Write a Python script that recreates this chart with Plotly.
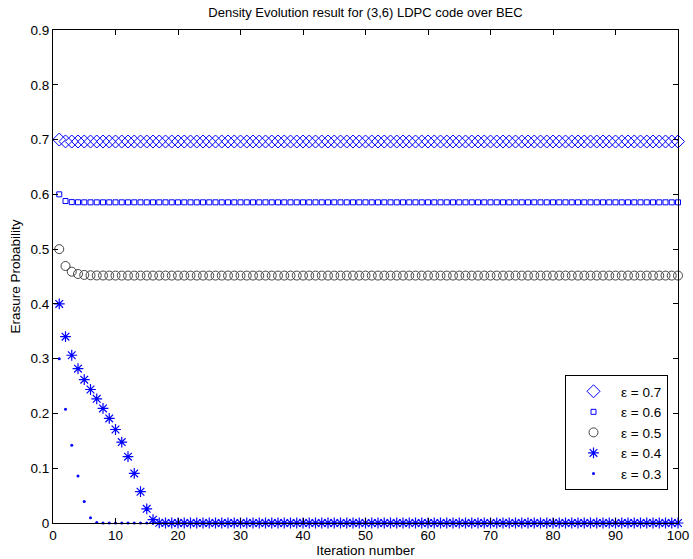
import plotly.graph_objects as go

iterations = list(range(1, 101))

eps_07 = [0.7, 0.6966, 0.6964] + [0.6964] * 97
eps_06 = [0.6, 0.5878, 0.5858, 0.5855] + [0.5854] * 96
eps_05 = [0.5, 0.4692, 0.4588, 0.4546, 0.4529, 0.4522, 0.4519, 0.4518, 0.4517] + [0.4517] * 91
eps_04 = [0.4, 0.3402, 0.3062, 0.2817, 0.2617, 0.2437, 0.2266, 0.2092, 0.1909,
          0.1707, 0.1477, 0.1211, 0.0905, 0.0571, 0.0259, 0.0061, 0.0004] + [0.0] * 83
eps_03 = [0.3, 0.2076, 0.1419, 0.0858, 0.0392, 0.0098, 0.0007] + [0.0] * 93

series = [
    ("ε = 0.7", eps_07, dict(symbol="diamond-open", size=10, color="#0000ff", line=dict(width=1))),
    ("ε = 0.6", eps_06, dict(symbol="square-open", size=5, color="#0000ff", line=dict(width=1))),
    ("ε = 0.5", eps_05, dict(symbol="circle-open", size=9, color="#444444", line=dict(width=1))),
    ("ε = 0.4", eps_04, dict(symbol="asterisk-open", size=9, color="#0000ff", line=dict(width=1.2))),
    ("ε = 0.3", eps_03, dict(symbol="circle", size=3, color="#0000ff")),
]

fig = go.Figure()
for name, vals, mk in series:
    fig.add_trace(go.Scatter(x=iterations, y=vals, mode="markers", name=name,
                             marker=mk, cliponaxis=False))

font_family = "Liberation Sans, Arial, sans-serif"
axis_common = dict(showline=True, linecolor="black", linewidth=1, mirror="ticks",
                   ticks="inside", ticklen=5, tickcolor="black", showgrid=False,
                   zeroline=False, tickfont=dict(size=13.5, color="black", family=font_family))

fig.update_layout(
    width=693, height=559,
    margin=dict(l=53, r=15, t=30, b=36, autoexpand=False),
    paper_bgcolor="white", plot_bgcolor="white",
    font=dict(family=font_family, color="black"),
    title=dict(text="Density Evolution result for (3,6) LDPC code over BEC",
               x=(53 + 678) / 2 / 693, xanchor="center", y=1 - 12 / 559, yanchor="middle",
               font=dict(size=13, color="black")),
    xaxis=dict(range=[0, 100], dtick=10, tick0=0,
               title=dict(text="Iteration number", font=dict(size=13.5), standoff=2),
               **axis_common),
    yaxis=dict(range=[0, 0.9], dtick=0.1, tick0=0, tickformat=".1~f",
               title=dict(text="Erasure Probability", font=dict(size=13.5), standoff=6),
               **axis_common),
    legend=dict(x=(668 - 53) / 625, xanchor="right",
                y=(523 - 375) / 493, yanchor="top",
                bgcolor="white", bordercolor="black", borderwidth=1,
                font=dict(size=13.5, color="black", family=font_family),
                tracegroupgap=0, itemwidth=45),
    showlegend=True,
)

fig.write_html("out.html")
